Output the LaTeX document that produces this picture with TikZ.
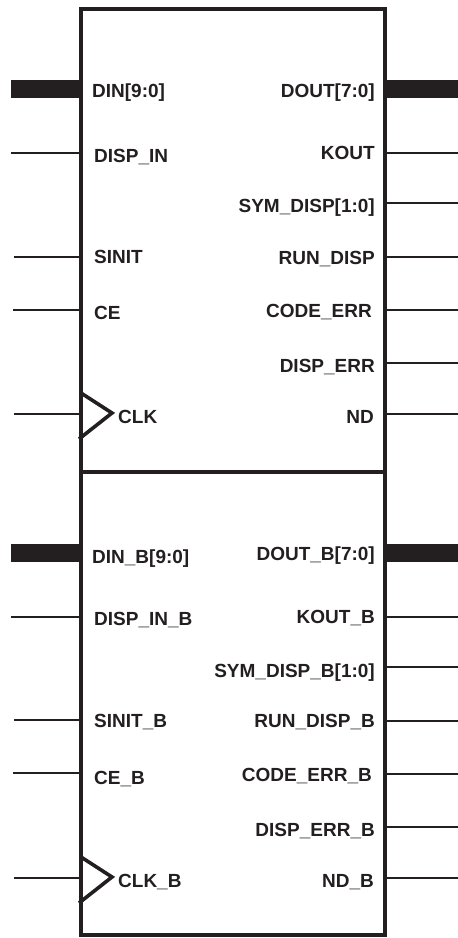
\documentclass[tikz,border=0pt]{standalone}
\usepackage{fontspec}
\setmainfont{Liberation Sans}
\definecolor{ink}{HTML}{231F20}
\tikzset{
    blockbox/.style={draw=ink, line width=3.6pt, inner sep=0pt, outer sep=0pt, minimum width=304pt, minimum height=463pt},
    wire/.style={draw=ink, line width=1.3pt},
    busline/.style={draw=ink, line width=18pt},
    clkmark/.style={draw=ink, line width=3.6pt, miter limit=10},
    inlabel/.style={anchor=base west, inner sep=0pt, text=ink, font=\fontsize{19}{20}\selectfont\bfseries},
    outlabel/.style={anchor=base east, inner sep=0pt, text=ink, font=\fontsize{19}{20}\selectfont\bfseries}
}

\begin{document}
\begin{tikzpicture}[x=1pt, y=-1pt]
        \useasboundingbox (0,0) rectangle (458,938);
        \node[blockbox] (enc) at (233,240.5) {};
        \node[blockbox] (encb) at (233,703.5) {};

        % first port, inputs
        \coordinate (din) at (11,89);
        \coordinate (dispin) at (11,153);
        \coordinate (sinit) at (14,257);
        \coordinate (ce) at (13,310);
        \coordinate (clk) at (14,414);
        \draw[busline] (din) -- (din -| enc.west);
        \draw[wire] (dispin) -- (dispin -| enc.west);
        \draw[wire] (sinit) -- (sinit -| enc.west);
        \draw[wire] (ce) -- (ce -| enc.west);
        \draw[wire] (clk) -- (clk -| enc.west);
        \coordinate (clktop) at (81,393);
        \coordinate (clktip) at (112,413);
        \coordinate (clkend) at (79,439);
        \draw[clkmark] (clktop) -- (clktip) -- (clkend);
        \node[inlabel] (dinlabel) at (92,97) {DIN[9:0]};
        \node[inlabel] (dispinlabel) at (94,162) {DISP\_IN};
        \node[inlabel] (sinitlabel) at (94,263) {SINIT};
        \node[inlabel] (celabel) at (94,319) {CE};
        \node[inlabel] (clklabel) at (118,423) {CLK};

        % first port, outputs
        \coordinate (dout) at (458,89);
        \coordinate (kout) at (458,153);
        \coordinate (symdisp) at (458,203);
        \coordinate (rundisp) at (458,257);
        \coordinate (codeerr) at (458,310);
        \coordinate (disperr) at (458,363);
        \coordinate (nd) at (458,414);
        \draw[busline] (dout) -- (dout -| enc.east);
        \draw[wire] (kout) -- (kout -| enc.east);
        \draw[wire] (symdisp) -- (symdisp -| enc.east);
        \draw[wire] (rundisp) -- (rundisp -| enc.east);
        \draw[wire] (codeerr) -- (codeerr -| enc.east);
        \draw[wire] (disperr) -- (disperr -| enc.east);
        \draw[wire] (nd) -- (nd -| enc.east);
        \node[outlabel] (doutlabel) at (375,97) {DOUT[7:0]};
        \node[outlabel] (koutlabel) at (375,159) {KOUT};
        \node[outlabel] (symdisplabel) at (375,212) {SYM\_DISP[1:0]};
        \node[outlabel] (rundisplabel) at (375,264) {RUN\_DISP};
        \node[outlabel] (codeerrlabel) at (372,317) {CODE\_ERR};
        \node[outlabel] (disperrlabel) at (375,372) {DISP\_ERR};
        \node[outlabel] (ndlabel) at (374,423) {ND};

        % second port, inputs
        \coordinate (dinb) at (11,553);
        \coordinate (dispinb) at (11,617);
        \coordinate (sinitb) at (14,720);
        \coordinate (ceb) at (13,773);
        \coordinate (clkb) at (14,878);
        \draw[busline] (dinb) -- (dinb -| encb.west);
        \draw[wire] (dispinb) -- (dispinb -| encb.west);
        \draw[wire] (sinitb) -- (sinitb -| encb.west);
        \draw[wire] (ceb) -- (ceb -| encb.west);
        \draw[wire] (clkb) -- (clkb -| encb.west);
        \coordinate (clkbtop) at (81,857);
        \coordinate (clkbtip) at (112,877);
        \coordinate (clkbend) at (79,903);
        \draw[clkmark] (clkbtop) -- (clkbtip) -- (clkbend);
        \node[inlabel] (dinblabel) at (92,563) {DIN\_B[9:0]};
        \node[inlabel] (dispinblabel) at (94,625) {DISP\_IN\_B};
        \node[inlabel] (sinitblabel) at (94,727) {SINIT\_B};
        \node[inlabel] (ceblabel) at (94,784) {CE\_B};
        \node[inlabel] (clkblabel) at (118,887) {CLK\_B};

        % second port, outputs
        \coordinate (doutb) at (458,553);
        \coordinate (koutb) at (458,617);
        \coordinate (symdispb) at (458,667);
        \coordinate (rundispb) at (458,721);
        \coordinate (codeerrb) at (458,774);
        \coordinate (disperrb) at (458,827);
        \coordinate (ndb) at (458,878);
        \draw[busline] (doutb) -- (doutb -| encb.east);
        \draw[wire] (koutb) -- (koutb -| encb.east);
        \draw[wire] (symdispb) -- (symdispb -| encb.east);
        \draw[wire] (rundispb) -- (rundispb -| encb.east);
        \draw[wire] (codeerrb) -- (codeerrb -| encb.east);
        \draw[wire] (disperrb) -- (disperrb -| encb.east);
        \draw[wire] (ndb) -- (ndb -| encb.east);
        \node[outlabel] (doutblabel) at (375,560) {DOUT\_B[7:0]};
        \node[outlabel] (koutblabel) at (375,623) {KOUT\_B};
        \node[outlabel] (symdispblabel) at (375,677) {SYM\_DISP\_B[1:0]};
        \node[outlabel] (rundispblabel) at (375,727) {RUN\_DISP\_B};
        \node[outlabel] (codeerrblabel) at (372,781) {CODE\_ERR\_B};
        \node[outlabel] (disperrblabel) at (375,836) {DISP\_ERR\_B};
        \node[outlabel] (ndblabel) at (374,887) {ND\_B};
    \end{tikzpicture}
\end{document}
